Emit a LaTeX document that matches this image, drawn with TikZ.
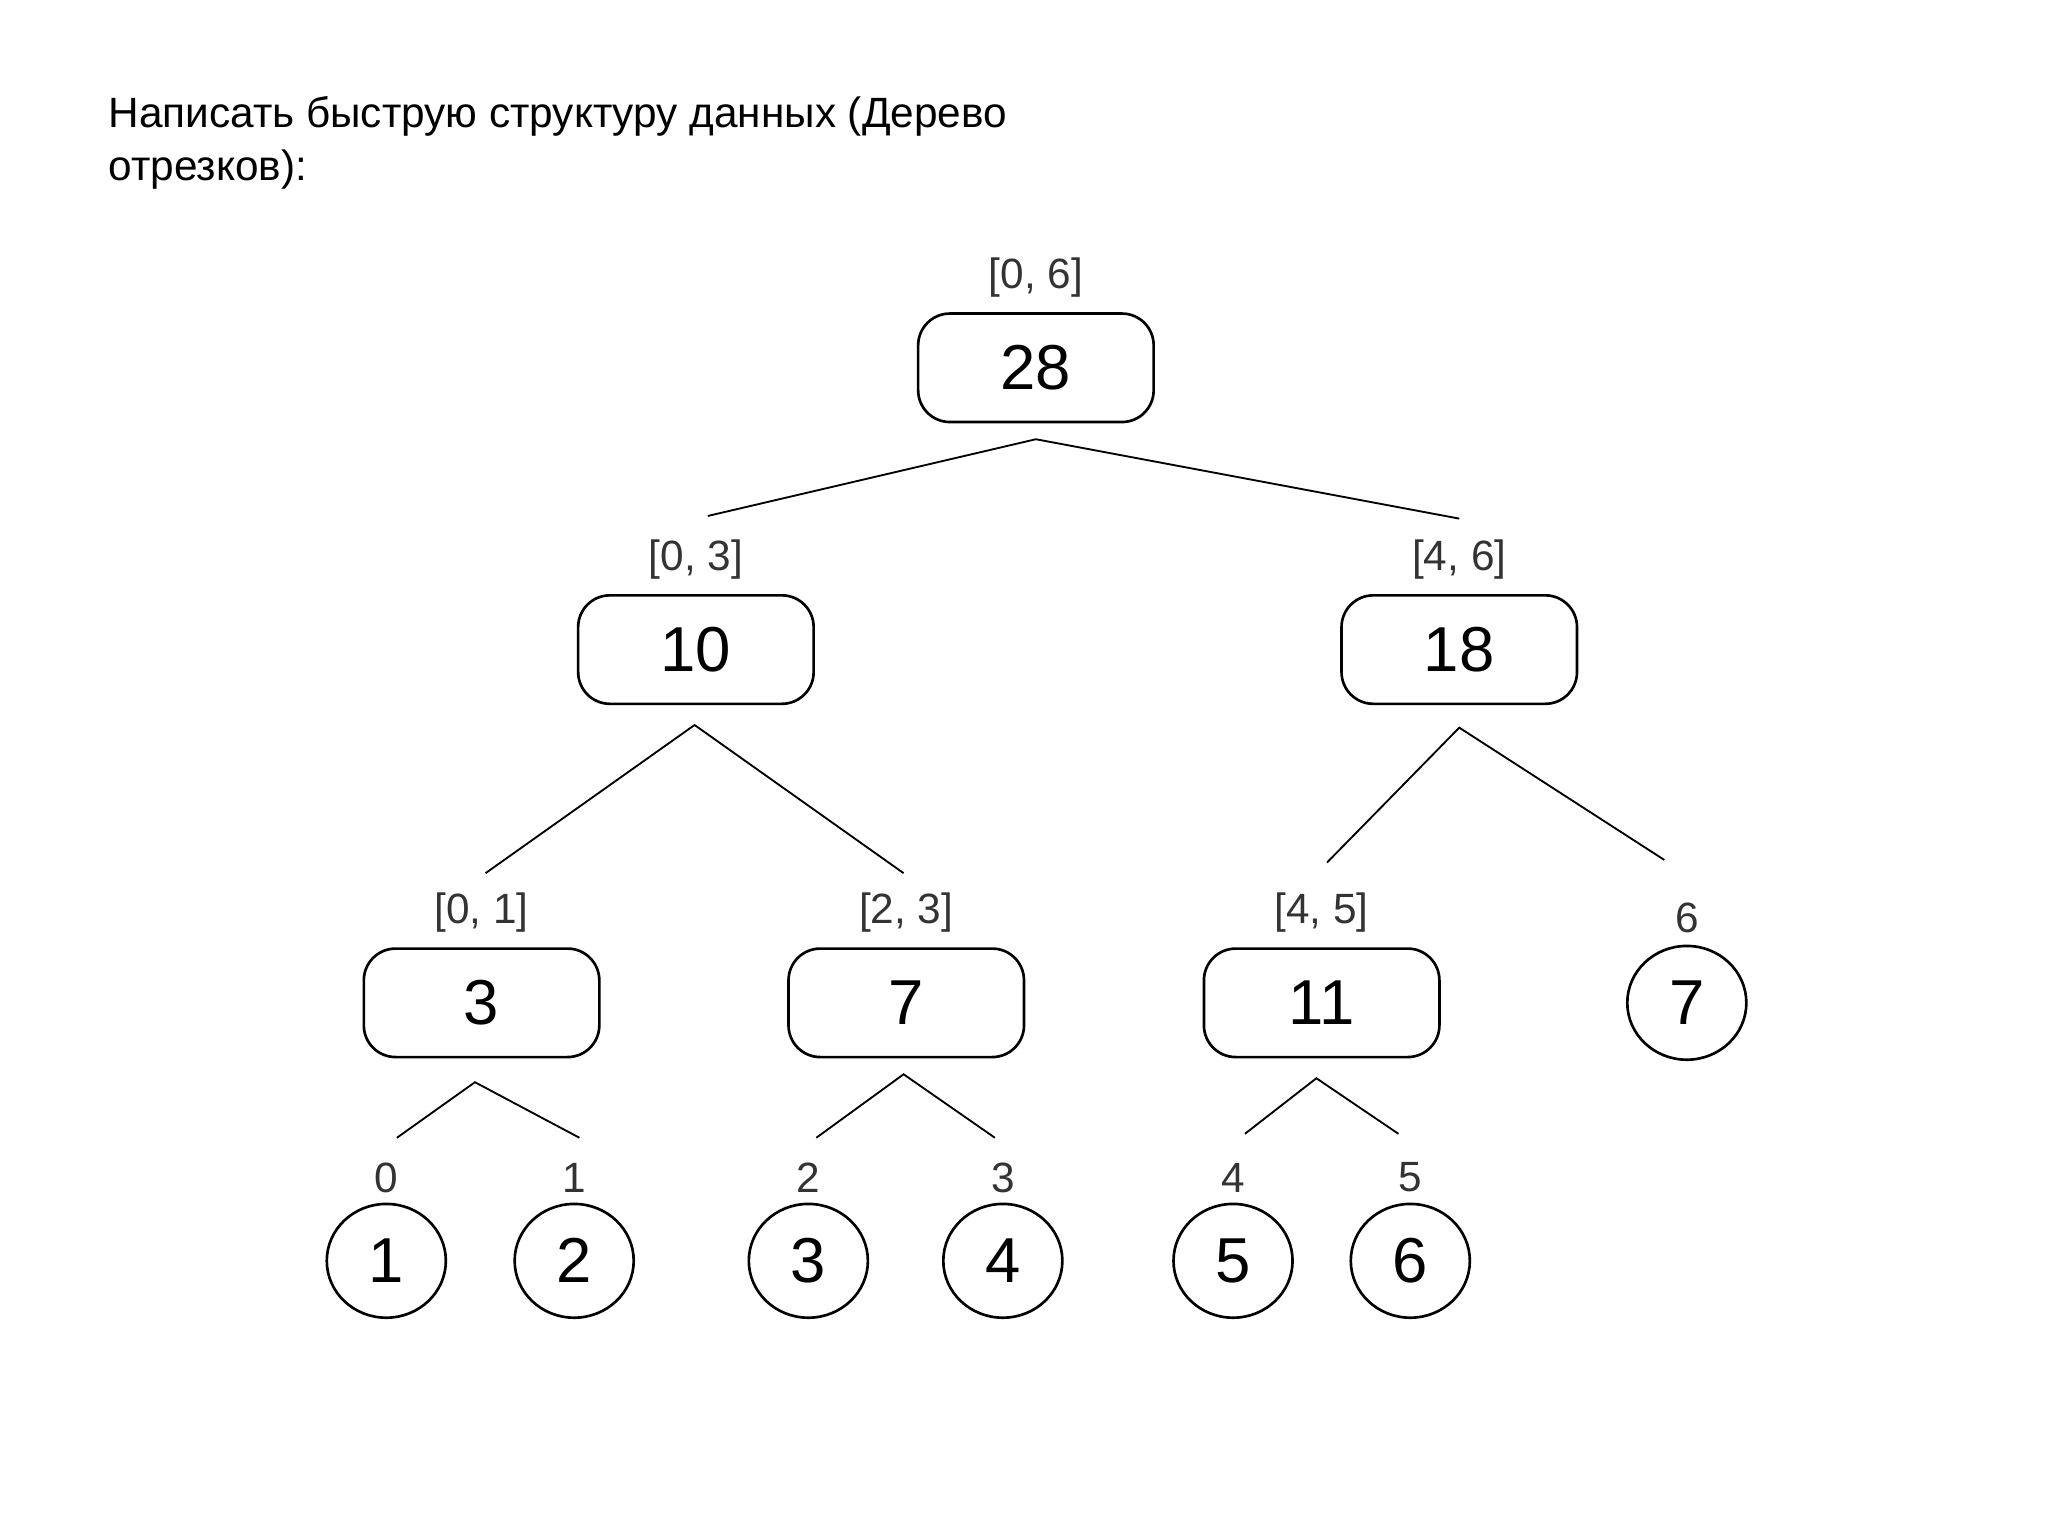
\documentclass[tikz,border=0pt]{standalone}
\usepackage{fontspec}
\setmainfont{Liberation Sans}
\usetikzlibrary{shapes.geometric}
\begin{document}
\begin{tikzpicture}[x=0.5pt,y=-0.5pt,
  box/.style={draw,line width=1pt,rounded corners=12pt,minimum width=89pt,minimum height=41pt,inner sep=0pt,font=\fontsize{24}{24}\selectfont},
  leaf/.style={draw,line width=1pt,ellipse,minimum width=45pt,minimum height=43pt,inner sep=0pt,font=\fontsize{24}{24}\selectfont},
  lab/.style={font=\fontsize{16}{16}\selectfont,text=black!80},
  edge/.style={line width=0.7pt}]
\useasboundingbox (0,0) rectangle (1548,1160);
\node[anchor=west,align=left,font=\fontsize{16}{20}\selectfont] (title) at (75,108) {Написать быструю структуру данных (Дерево\\отрезков):};
% boxes
\node[box] (r) at (783,278) {28};
\node[lab] (lr) at (783,210) {[0, 6]};
\node[box] (a) at (526,491) {10};
\node[lab] (la) at (526,423) {[0, 3]};
\node[box] (b) at (1103,491) {18};
\node[lab] (lb) at (1103,423) {[4, 6]};
\node[box] (c) at (364,758) {3};
\node[lab] (lc) at (364,690) {[0, 1]};
\node[box] (d) at (685,758) {7};
\node[lab] (ld) at (685,690) {[2, 3]};
\node[box] (e) at (999,758) {11};
\node[lab] (le) at (999,690) {[4, 5]};
\node[leaf] (f) at (1275,758) {7};
\node[lab] (lf) at (1275,694) {6};
\foreach \x/\n/\v [count=\i from 0] in {292/l0/1,434/l1/2,611/l2/3,758/l3/4,932/l4/5,1066/l5/6}{
  \node[leaf] (\n) at (\x,953) {\v};
  \node[lab] (t\n) at (\x,890) {\i};
}
% connector points
\coordinate (r1) at (783,332); \coordinate (r2) at (535,390); \coordinate (r3) at (1103,392);
\coordinate (a1) at (525,548); \coordinate (a2) at (367,660); \coordinate (a3) at (683,660);
\coordinate (b1) at (1103,550); \coordinate (b2) at (1003,652); \coordinate (b3) at (1258,650);
\coordinate (c1) at (359,818); \coordinate (c2) at (300,860); \coordinate (c3) at (438,860);
\coordinate (d1) at (683,812); \coordinate (d2) at (617,860); \coordinate (d3) at (752,860);
\coordinate (e1) at (995,815); \coordinate (e2) at (941,857); \coordinate (e3) at (1057,857);
\foreach \p in {r,a,b,c,d,e}{\draw[edge] (\p2) -- (\p1) -- (\p3);}
\end{tikzpicture}
\end{document}
